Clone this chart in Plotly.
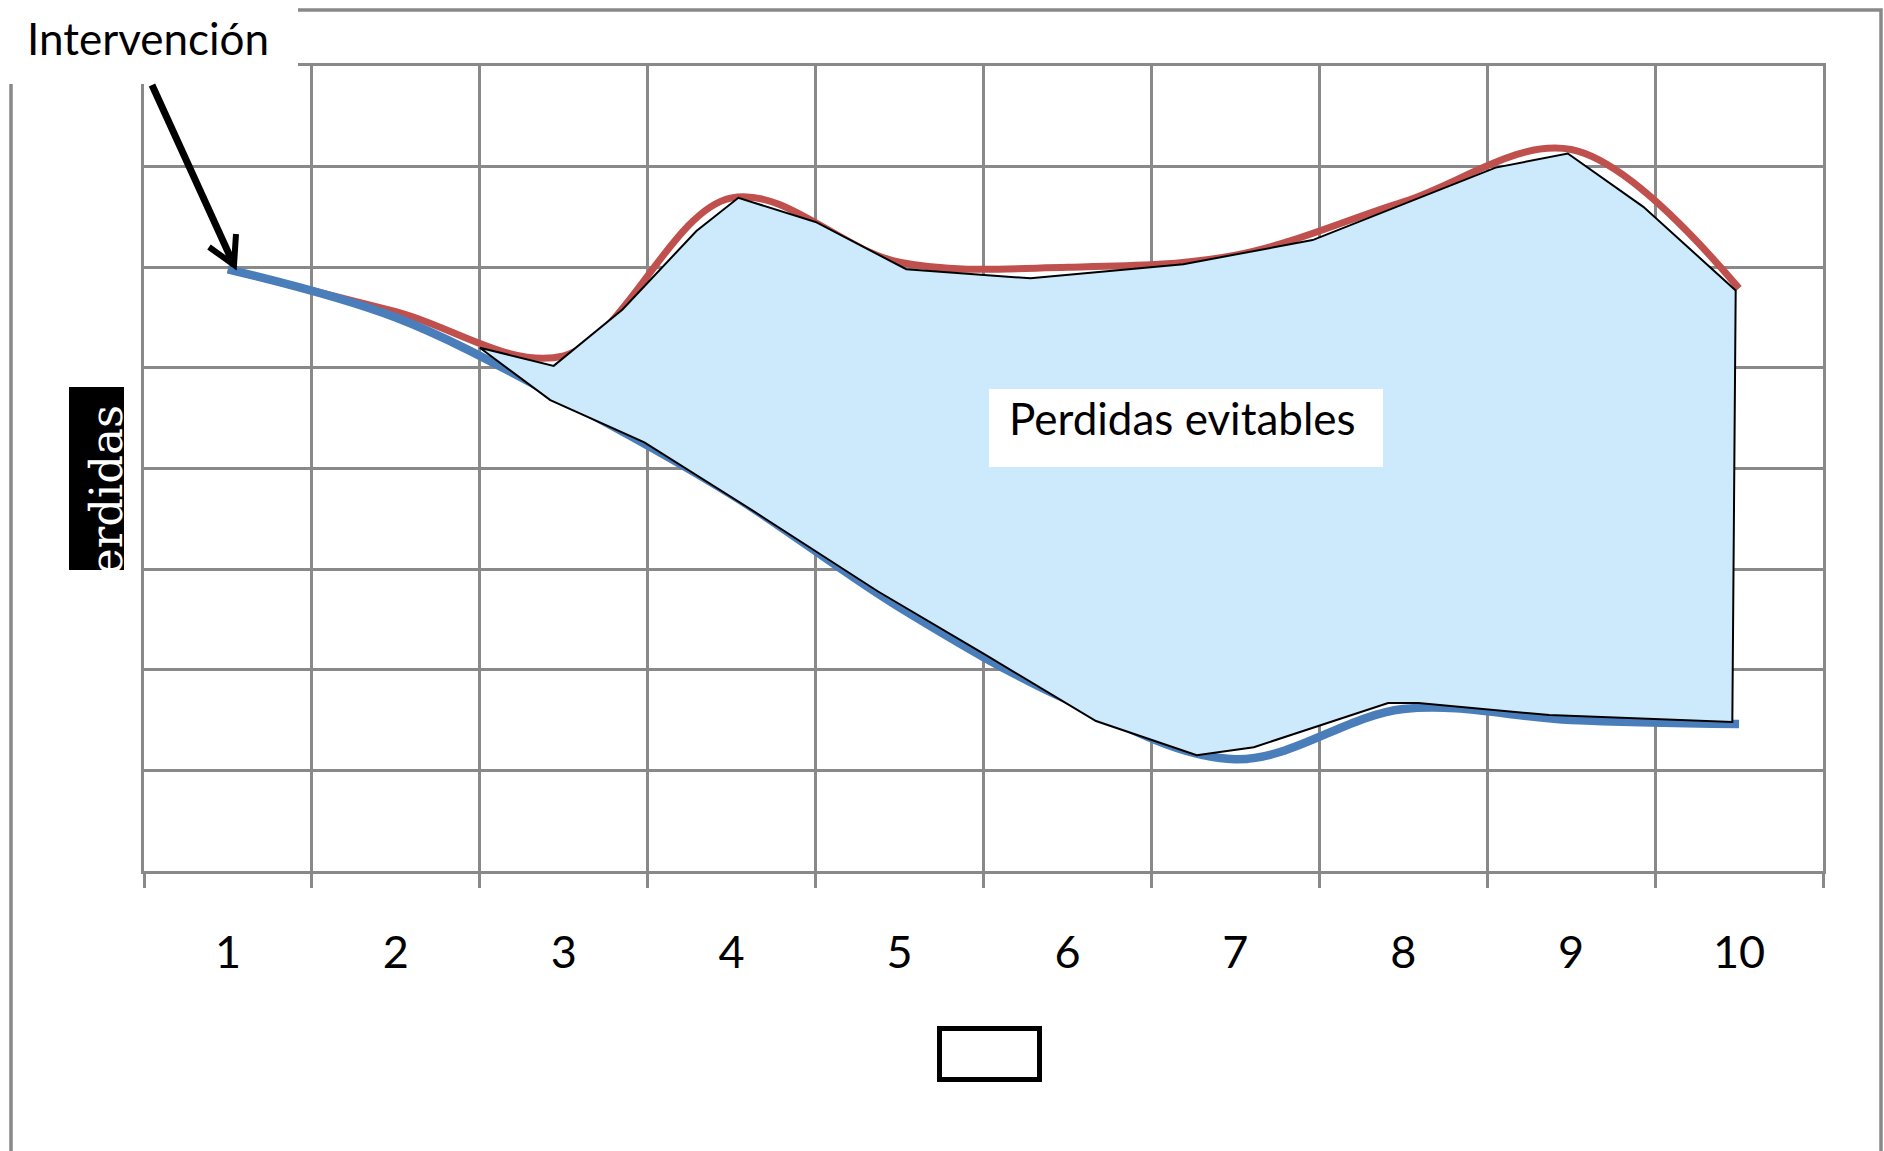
import plotly.graph_objects as go

# ---------------- data ----------------
categories = [1, 2, 3, 4, 5, 6, 7, 8, 9, 10]
tick_labels = ["1", "2", "3", "4", "5", "6", "7", "8", "9", "10"]
red_values = [5.98, 5.56, 5.12, 6.69, 6.05, 6.00, 6.12, 6.65, 7.17, 5.79]
blue_values = [5.98, 5.50, 4.68, 3.74, 2.62, 1.70, 1.11, 1.61, 1.50, 1.46]

# freeform "Perdidas evitables" region (data units)
area_x = [2.50, 2.94, 3.35, 3.79, 4.04, 4.50, 5.04, 5.78, 6.69, 7.46, 8.55, 8.98, 9.43, 9.98,
          9.96, 8.87, 8.09, 7.91, 7.11, 6.77, 6.17, 5.51, 4.87, 4.09, 3.48, 2.92, 2.50]
area_y = [5.20, 5.02, 5.58, 6.36, 6.69, 6.45, 5.98, 5.89, 6.03, 6.27, 6.99, 7.13, 6.60, 5.77,
          1.48, 1.55, 1.67, 1.67, 1.23, 1.15, 1.49, 2.15, 2.78, 3.62, 4.26, 4.68, 5.20]

y_levels = [0, 1, 2, 3, 4, 5, 6, 7, 8]
boundaries = [c - 0.5 for c in categories] + [categories[-1] + 0.5]

# ---------------- geometry helpers (page pixels -> paper) ----------------
W, H = 1884, 1151
L, R, T, B = 144, 1823, 66, 871


def px(x):
    return (x - L) / (R - L)


def py(y):
    return (B - y) / (B - T)


GRID = "#898989"

fig = go.Figure()
fig.add_trace(go.Scatter(x=categories, y=red_values, mode="lines",
                         line=dict(color="#C0504D", width=7, shape="spline"),
                         hoverinfo="skip"))
fig.add_trace(go.Scatter(x=categories, y=blue_values, mode="lines",
                         line=dict(color="#4A7EBB", width=8.5, shape="spline"),
                         hoverinfo="skip"))
fig.add_trace(go.Scatter(x=area_x, y=area_y, mode="lines", fill="toself",
                         fillcolor="#CCEAFC", line=dict(color="black", width=2),
                         hoverinfo="skip"))

shapes = [
    # outer chart-area frame (left, top, right)
    dict(type="path", xref="paper", yref="paper", layer="above",
         path=f"M {px(11)},{py(H + 5)} L {px(11)},{py(10)} L {px(1881)},{py(10)} L {px(1881)},{py(H + 5)}",
         line=dict(color=GRID, width=3.5)),
    # white box behind "Intervención"
    dict(type="rect", xref="paper", yref="paper", layer="above",
         x0=px(0), x1=px(298), y0=py(84), y1=py(0),
         fillcolor="white", line=dict(width=0)),
    # white box behind "Perdidas evitables"
    dict(type="rect", xref="paper", yref="paper", layer="above",
         x0=px(989), x1=px(1383), y0=py(467), y1=py(389),
         fillcolor="white", line=dict(width=0)),
    # black box of the axis title
    dict(type="rect", xref="paper", yref="paper", layer="above",
         x0=px(69), x1=px(124), y0=py(570), y1=py(387),
         fillcolor="black", line=dict(width=0)),
    # empty box below the axis
    dict(type="rect", xref="paper", yref="paper", layer="above",
         x0=px(939.5), x1=px(1039.5), y0=py(1079.5), y1=py(1028.5),
         fillcolor="white", line=dict(color="black", width=5)),
    # arrow shaft
    dict(type="path", xref="paper", yref="paper", layer="above",
         path=f"M {px(152)},{py(85)} L {px(234)},{py(265)}",
         line=dict(color="black", width=7)),
    # arrow head
    dict(type="path", xref="paper", yref="paper", layer="above",
         path=f"M {px(209)},{py(247)} L {px(234)},{py(265)} L {px(236)},{py(234)}",
         line=dict(color="black", width=6)),
]

annotations = [
    dict(text="Intervención", xref="paper", yref="paper", x=px(25), y=py(38),
         xanchor="left", yanchor="middle", showarrow=False,
         font=dict(family="Lato", size=44, color="black")),
    dict(text="Perdidas evitables", xref="paper", yref="paper", x=px(1182), y=py(418),
         xanchor="center", yanchor="middle", showarrow=False,
         font=dict(family="Lato", size=44, color="black")),
    dict(text="erdidas", xref="paper", yref="paper", x=px(106), y=py(490),
         xanchor="center", yanchor="middle", showarrow=False, textangle=-90,
         font=dict(family="DejaVu Serif", size=45, color="white")),
]

fig.update_layout(
    width=W, height=H,
    margin=dict(l=L, r=W - R, t=T, b=H - B, pad=0),
    paper_bgcolor="white", plot_bgcolor="white",
    showlegend=False,
    shapes=shapes, annotations=annotations,
    xaxis=dict(range=[0.5, 10.5], tickmode="array", tickvals=categories, ticktext=tick_labels,
               showgrid=False, zeroline=False, ticks="", ticklabelstandoff=40,
               showline=True, mirror=True, linecolor=GRID, linewidth=3,
               tickfont=dict(family="Lato", size=45, color="black"),
               minor=dict(tickmode="array", tickvals=boundaries, ticks="outside", ticklen=14,
                          tickwidth=3, tickcolor=GRID, showgrid=True, gridcolor=GRID, gridwidth=3)),
    yaxis=dict(range=[0, 8], tickmode="array", tickvals=y_levels, showticklabels=False, ticks="",
               showgrid=True, gridcolor=GRID, gridwidth=3, zeroline=False,
               showline=True, mirror=True, linecolor=GRID, linewidth=3),
)

fig.write_html("out.html", config={"displayModeBar": False},
               post_script="document.body.style.margin='0';document.body.style.overflow='hidden';")
